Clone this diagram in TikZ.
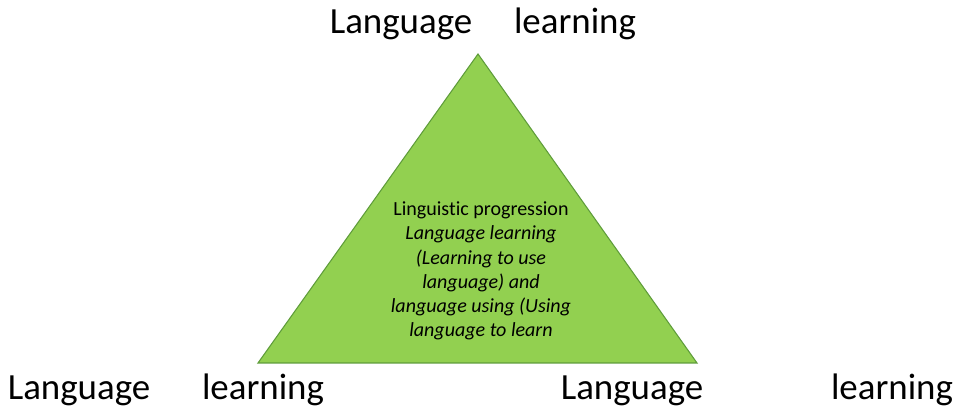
\documentclass[tikz,border=0pt]{standalone}
\usepackage{fontspec}
\setmainfont{Carlito}[Ligatures=NoCommon]
\usepackage{xcolor}
\definecolor{triFill}{HTML}{92D050}
\definecolor{triEdge}{HTML}{5E9C3A}
\tikzset{bigLabel/.style={anchor=base, inner sep=0pt, font=\fontsize{21}{25}\selectfont}}
\tikzset{triText/.style={align=center, inner sep=0pt, font=\fontsize{11.4}{13.8}\selectfont}}

\begin{document}
\begin{tikzpicture}[x=0.02cm, y=-0.02cm]

\useasboundingbox (0,0) rectangle (954,408);

\coordinate (apex) at (478, 54);
\coordinate (baseL) at (258, 363);
\coordinate (baseR) at (697, 363);

\filldraw[fill=triFill, draw=triEdge, line width=0.6pt] (apex) -- (baseR) -- (baseL) -- cycle;

\node[triText] (inner) at (481, 271) {Linguistic progression\\
\textit{Language learning}\\
\textit{(Learning to use}\\
\textit{language) and}\\
\textit{language using (Using}\\
\textit{language to learn}};

\node[bigLabel] (topLang) at (401, 34) {Language};
\node[bigLabel] (topLearn) at (575, 34) {learning};

\node[bigLabel] (leftLang) at (79, 400) {Language};
\node[bigLabel] (leftLearn) at (263, 400) {learning};

\node[bigLabel] (rightLang) at (632, 400) {Language};
\node[bigLabel] (rightLearn) at (892, 400) {learning};

\end{tikzpicture}
\end{document}
